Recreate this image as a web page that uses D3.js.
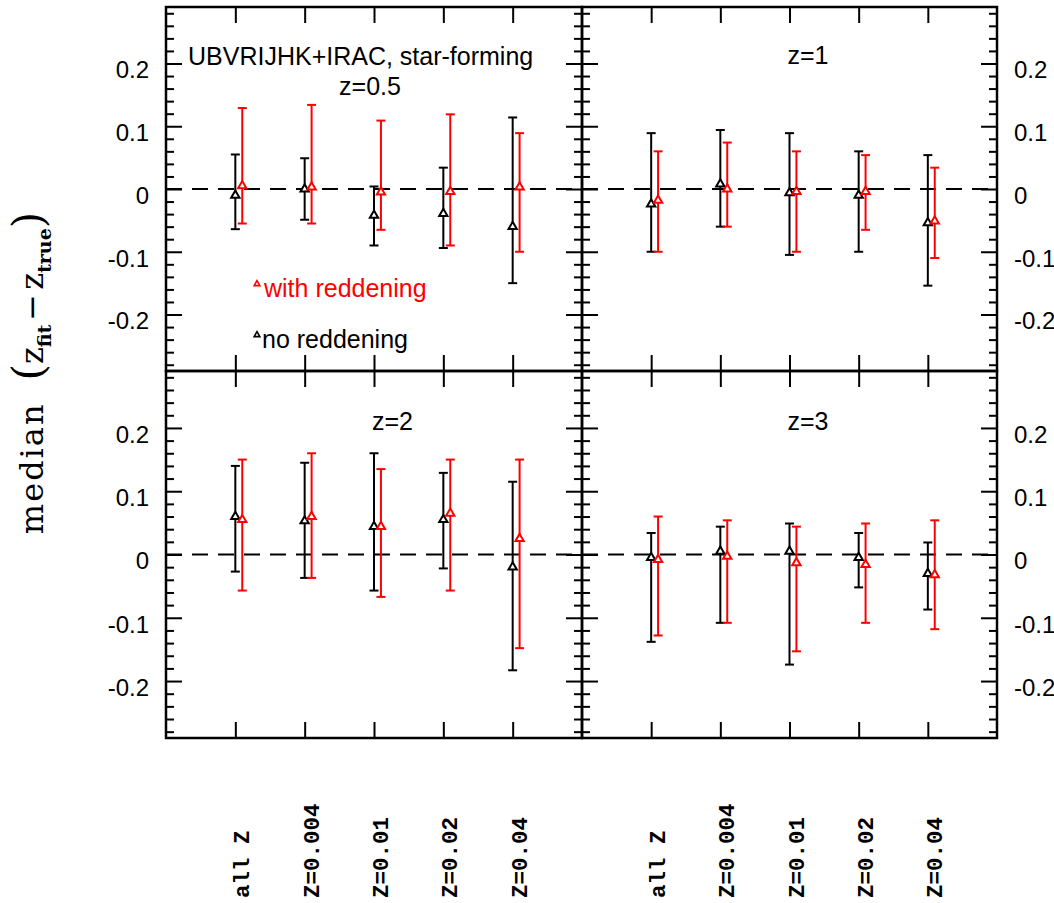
<!DOCTYPE html>
<html>
<head>
<meta charset="utf-8">
<script src="https://cdn.jsdelivr.net/npm/d3@7"></script>
<style>
  html, body { margin: 0; padding: 0; background: #fff; }
  svg { display: block; font-family: "Liberation Sans", Arial, sans-serif; }
</style>
</head>
<body>
<svg id="chart" width="1054" height="903"></svg>
<script>
// ---------------- data ----------------
const categories = ["all Z", "Z=0.004", "Z=0.01", "Z=0.02", "Z=0.04"];
const panelTitles = ["z=0.5", "z=1", "z=2", "z=3"];
const headerText = "UBVRIJHK+IRAC, star-forming";
const seriesNames = ["with reddening", "no reddening"];
const yTickValues = [-0.2, -0.1, 0, 0.1, 0.2];

// no reddening (black): median, lower end, upper end
const noRedMed_z05 = [-0.010, 0.000, -0.042, -0.039, -0.060];
const noRedLo_z05  = [-0.064, -0.049, -0.090, -0.094, -0.150];
const noRedHi_z05  = [0.055, 0.049, 0.004, 0.034, 0.114];
// with reddening (red)
const redMed_z05 = [0.005, 0.003, -0.005, -0.004, 0.003];
const redLo_z05  = [-0.055, -0.055, -0.065, -0.090, -0.100];
const redHi_z05  = [0.129, 0.134, 0.109, 0.119, 0.089];

const noRedMed_z1 = [-0.024, 0.008, -0.006, -0.010, -0.054];
const noRedLo_z1  = [-0.100, -0.060, -0.105, -0.100, -0.154];
const noRedHi_z1  = [0.089, 0.094, 0.089, 0.060, 0.054];
const redMed_z1 = [-0.018, 0.000, -0.004, -0.004, -0.051];
const redLo_z1  = [-0.100, -0.060, -0.100, -0.065, -0.110];
const redHi_z1  = [0.060, 0.074, 0.060, 0.054, 0.034];

const noRedMed_z2 = [0.060, 0.053, 0.044, 0.055, -0.020];
const noRedLo_z2  = [-0.027, -0.037, -0.057, -0.022, -0.183];
const noRedHi_z2  = [0.140, 0.145, 0.160, 0.129, 0.115];
const redMed_z2 = [0.055, 0.060, 0.044, 0.065, 0.025];
const redLo_z2  = [-0.057, -0.037, -0.067, -0.057, -0.148];
const redHi_z2  = [0.150, 0.160, 0.135, 0.150, 0.150];

const noRedMed_z3 = [-0.005, 0.005, 0.005, -0.005, -0.030];
const noRedLo_z3  = [-0.138, -0.108, -0.174, -0.052, -0.087];
const noRedHi_z3  = [0.034, 0.044, 0.049, 0.034, 0.019];
const redMed_z3 = [-0.008, -0.003, -0.013, -0.016, -0.032];
const redLo_z3  = [-0.128, -0.108, -0.153, -0.108, -0.118];
const redHi_z3  = [0.060, 0.054, 0.044, 0.049, 0.054];

const panelSeries = [
  {black: [noRedMed_z05, noRedLo_z05, noRedHi_z05], red: [redMed_z05, redLo_z05, redHi_z05]},
  {black: [noRedMed_z1, noRedLo_z1, noRedHi_z1], red: [redMed_z1, redLo_z1, redHi_z1]},
  {black: [noRedMed_z2, noRedLo_z2, noRedHi_z2], red: [redMed_z2, redLo_z2, redHi_z2]},
  {black: [noRedMed_z3, noRedLo_z3, noRedHi_z3], red: [redMed_z3, redLo_z3, redHi_z3]}
];

// ---------------- layout ----------------
const svg = d3.select("#chart");
const SANS = "'Liberation Sans', Arial, sans-serif";
const X0 = 166, XM = 582, X1 = 997;
const Y0 = 7, YM = 371, Y1 = 738;
const panelBoxes = [
  {x: [X0, XM], y: [Y0, YM], side: "left"},
  {x: [XM, X1], y: [Y0, YM], side: "right"},
  {x: [X0, XM], y: [YM, Y1], side: "left"},
  {x: [XM, X1], y: [YM, Y1], side: "right"}
];
const RED = "#ff0000";
const redOffset = 0.1;
const fmt = v => (v === 0 ? "0" : d3.format(".1f")(v).replace("\u2212", "-"));
const minorVals = d3.range(-28, 29, 2).map(d => d / 100).filter(v => Math.abs(Math.round(v * 10) / 10 - v) > 1e-9);

panelBoxes.forEach((box, pi) => {
  const x = d3.scaleLinear().domain([0, 6]).range(box.x);
  const y = d3.scaleLinear().domain([-0.29, 0.29]).range([box.y[1], box.y[0]]);
  const g = svg.append("g");
  const idx = d3.range(1, categories.length + 1);

  // zero dashed line
  g.append("line")
    .attr("x1", box.x[0]).attr("x2", box.x[1])
    .attr("y1", y(0)).attr("y2", y(0))
    .attr("stroke", "#000").attr("stroke-width", 2)
    .attr("stroke-dasharray", "16,10");

  // y ticks: left and right of each panel (inward)
  const addYAxis = (xpos, isLeft, withLabels) => {
    const major = (isLeft ? d3.axisLeft(y) : d3.axisRight(y))
      .tickValues(yTickValues).tickSize(-16).tickPadding(17)
      .tickFormat(withLabels ? fmt : "");
    const minor = (isLeft ? d3.axisLeft(y) : d3.axisRight(y))
      .tickValues(minorVals).tickSize(-8).tickFormat("");
    const ga = g.append("g").attr("transform", `translate(${xpos},0)`).call(major);
    const gm = g.append("g").attr("transform", `translate(${xpos},0)`).call(minor);
    [ga, gm].forEach(s => {
      s.attr("font-family", null).attr("font-size", null);
      s.select(".domain").remove();
      s.selectAll(".tick line").attr("stroke", "#000").attr("stroke-width", 2);
    });
    ga.selectAll(".tick text")
      .style("font-family", SANS)
      .style("font-size", "24px").attr("fill", "#000").attr("dy", "0.6em");
  };
  addYAxis(box.x[0], true, box.side === "left");
  addYAxis(box.x[1], false, box.side === "right");

  // x ticks top and bottom (inward)
  const xb = d3.axisBottom(x).tickValues(idx).tickSize(-16).tickFormat("");
  const xt = d3.axisTop(x).tickValues(idx).tickSize(-16).tickFormat("");
  [g.append("g").attr("transform", `translate(0,${box.y[1]})`).call(xb),
   g.append("g").attr("transform", `translate(0,${box.y[0]})`).call(xt)].forEach(s => {
    s.select(".domain").remove();
    s.selectAll(".tick line").attr("stroke", "#000").attr("stroke-width", 2);
  });

  // frame
  g.append("rect")
    .attr("x", box.x[0]).attr("y", box.y[0])
    .attr("width", box.x[1] - box.x[0]).attr("height", box.y[1] - box.y[0])
    .attr("fill", "none").attr("stroke", "#000").attr("stroke-width", 2.5);

  // error bars + triangles
  const drawSeries = (arrs, color, off) => {
    const [med, lo, hi] = arrs;
    const sg = g.append("g");
    med.forEach((m, i) => {
      const cx = x(i + 1 + off);
      sg.append("line").attr("x1", cx).attr("x2", cx)
        .attr("y1", y(lo[i])).attr("y2", y(hi[i]))
        .attr("stroke", color).attr("stroke-width", 2);
      [lo[i], hi[i]].forEach(v => {
        sg.append("line").attr("x1", cx - 4.5).attr("x2", cx + 4.5)
          .attr("y1", y(v)).attr("y2", y(v))
          .attr("stroke", color).attr("stroke-width", 2);
      });
      sg.append("path")
        .attr("d", d3.symbol(d3.symbolTriangle, 30)())
        .attr("transform", `translate(${cx},${y(m)})`)
        .attr("fill", "#fff").attr("stroke", color).attr("stroke-width", 2);
    });
  };
  drawSeries(panelSeries[pi].black, "#000", 0);
  drawSeries(panelSeries[pi].red, RED, redOffset);

  // panel title
  const t = g.append("text").style("font-family", SANS).style("font-size", "25px").attr("fill", "#000");
  if (pi === 0) {
    g.append("text").attr("x", 188).attr("y", 65)
      .style("font-family", SANS).style("font-size", "25px").text(headerText);
    t.attr("x", 370).attr("y", 95).attr("text-anchor", "middle").text(panelTitles[pi]);
  } else {
    t.attr("x", x(3) - 2).attr("y", pi === 1 ? 64 : 430).text(panelTitles[pi]);
  }

  // category labels under bottom panels
  if (pi >= 2) {
    categories.forEach((c, i) => {
      const cx = x(i + 1) + 14;
      svg.append("text")
        .attr("transform", `translate(${cx},898) rotate(-90)`)
        .style("font-family", "'Liberation Mono', 'Courier New', monospace")
        .style("font-size", "22.5px").style("font-weight", "bold").attr("fill", "#000")
        .text(c);
    });
  }
});

// legend (in first panel)
const legendColors = [RED, "#000"];
seriesNames.forEach((name, i) => {
  const yb = 297 + i * 51;
  svg.append("path")
    .attr("d", d3.symbol(d3.symbolTriangle, 14)())
    .attr("transform", `translate(257,${yb - 13})`)
    .attr("fill", "#fff").attr("stroke", legendColors[i]).attr("stroke-width", 1.6);
  svg.append("text").attr("x", i === 0 ? 264 : 262).attr("y", yb)
    .style("font-family", SANS).style("font-size", "25px")
    .attr("fill", legendColors[i]).text(name);
});

// y axis label
const SERIF = "'DejaVu Serif', serif";
const yl = svg.append("text")
  .attr("transform", "translate(43,373) rotate(-90)")
  .attr("text-anchor", "middle")
  .style("font-family", SERIF)
  .style("font-size", "32px").attr("fill", "#000");
yl.append("tspan").style("letter-spacing", "2px").text("median");
yl.append("tspan").attr("dx", 22).style("font-size", "42px").text("(");
yl.append("tspan").text("z");
yl.append("tspan").style("font-size", "19px").style("font-weight", "bold").attr("dy", 8).text("fit");
yl.append("tspan").attr("dy", -8).attr("dx", 4).text("\u2212");
yl.append("tspan").attr("dx", 4).text("z");
yl.append("tspan").style("font-size", "19px").style("font-weight", "bold").attr("dy", 8).text("true");
yl.append("tspan").attr("dy", -8).style("font-size", "42px").text(")");
</script>
</body>
</html>
